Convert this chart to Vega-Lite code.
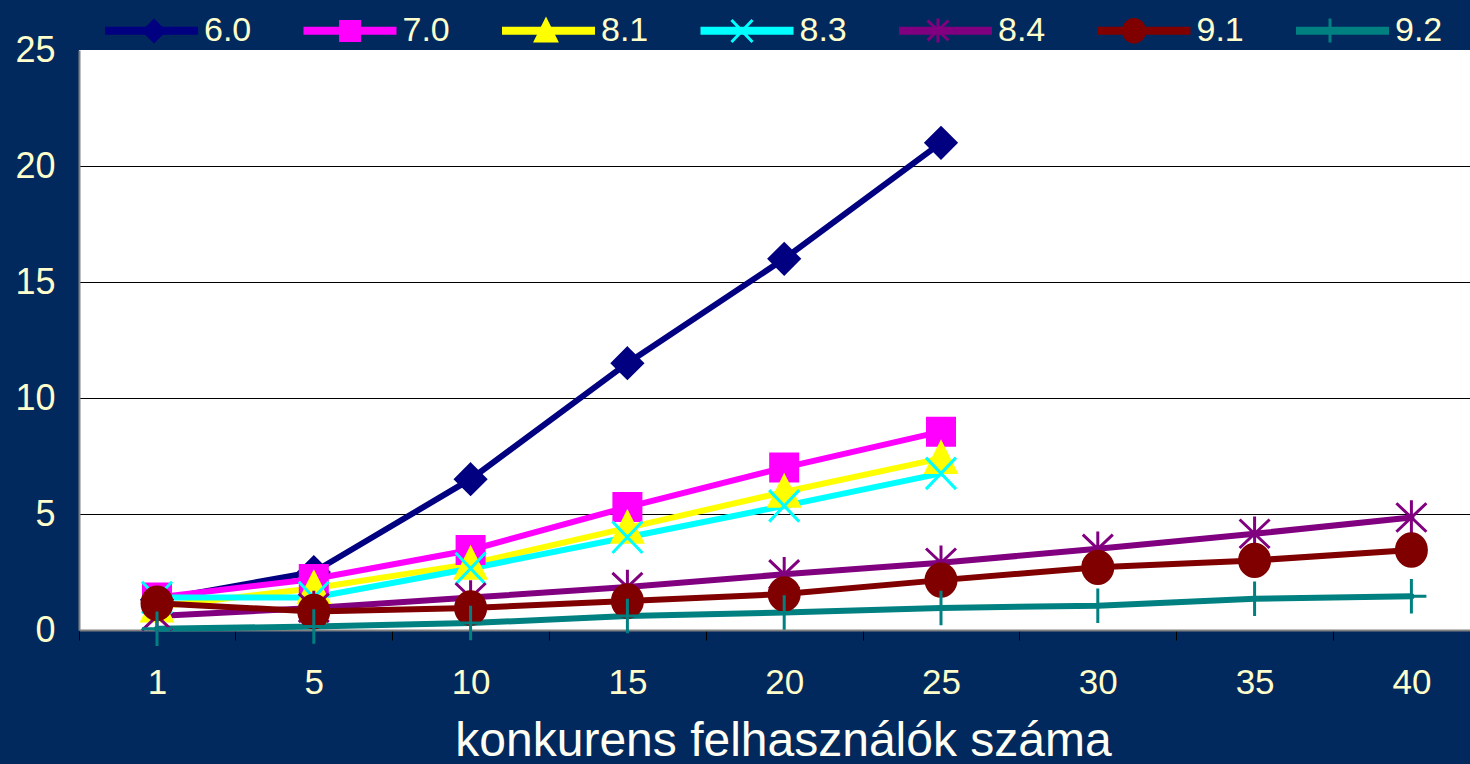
{
  "$schema": "https://vega.github.io/schema/vega-lite/v6.json",
  "width": 1391,
  "height": 580,
  "autosize": {"type": "none"},
  "padding": {"left": 79, "top": 50, "right": 0, "bottom": 134},
  "background": "#02295E",
  "config": {
    "view": {"fill": "white", "stroke": null},
    "font": "Liberation Sans"
  },
  "data": {
    "values": [
      {"series": "6.0", "users": "1", "value": 1.3},
      {"series": "6.0", "users": "5", "value": 2.5},
      {"series": "6.0", "users": "10", "value": 6.5},
      {"series": "6.0", "users": "15", "value": 11.5},
      {"series": "6.0", "users": "20", "value": 16.0},
      {"series": "6.0", "users": "25", "value": 21.0},
      {"series": "7.0", "users": "1", "value": 1.4},
      {"series": "7.0", "users": "5", "value": 2.2},
      {"series": "7.0", "users": "10", "value": 3.45},
      {"series": "7.0", "users": "15", "value": 5.3},
      {"series": "7.0", "users": "20", "value": 7.0},
      {"series": "7.0", "users": "25", "value": 8.55},
      {"series": "8.1", "users": "1", "value": 1.0},
      {"series": "8.1", "users": "5", "value": 1.8},
      {"series": "8.1", "users": "10", "value": 2.85},
      {"series": "8.1", "users": "15", "value": 4.4},
      {"series": "8.1", "users": "20", "value": 5.95},
      {"series": "8.1", "users": "25", "value": 7.4},
      {"series": "8.3", "users": "1", "value": 1.4},
      {"series": "8.3", "users": "5", "value": 1.4},
      {"series": "8.3", "users": "10", "value": 2.65},
      {"series": "8.3", "users": "15", "value": 4.0},
      {"series": "8.3", "users": "20", "value": 5.35},
      {"series": "8.3", "users": "25", "value": 6.75},
      {"series": "8.4", "users": "1", "value": 0.6},
      {"series": "8.4", "users": "5", "value": 0.95},
      {"series": "8.4", "users": "10", "value": 1.4},
      {"series": "8.4", "users": "15", "value": 1.85},
      {"series": "8.4", "users": "20", "value": 2.4},
      {"series": "8.4", "users": "25", "value": 2.9},
      {"series": "8.4", "users": "30", "value": 3.5},
      {"series": "8.4", "users": "35", "value": 4.15},
      {"series": "8.4", "users": "40", "value": 4.85},
      {"series": "9.1", "users": "1", "value": 1.15},
      {"series": "9.1", "users": "5", "value": 0.8},
      {"series": "9.1", "users": "10", "value": 0.95},
      {"series": "9.1", "users": "15", "value": 1.25},
      {"series": "9.1", "users": "20", "value": 1.55},
      {"series": "9.1", "users": "25", "value": 2.15},
      {"series": "9.1", "users": "30", "value": 2.7},
      {"series": "9.1", "users": "35", "value": 3.0},
      {"series": "9.1", "users": "40", "value": 3.45},
      {"series": "9.2", "users": "1", "value": 0.05},
      {"series": "9.2", "users": "5", "value": 0.15},
      {"series": "9.2", "users": "10", "value": 0.3},
      {"series": "9.2", "users": "15", "value": 0.6},
      {"series": "9.2", "users": "20", "value": 0.75},
      {"series": "9.2", "users": "25", "value": 0.95},
      {"series": "9.2", "users": "30", "value": 1.05},
      {"series": "9.2", "users": "35", "value": 1.35},
      {"series": "9.2", "users": "40", "value": 1.45}
    ]
  },
  "encoding": {
    "x": {
      "field": "users",
      "type": "ordinal",
      "scale": {"type": "point", "domain": ["1", "5", "10", "15", "20", "25", "30", "35", "40"], "padding": 0.4356, "align": 0.571},
      "axis": {
        "title": "konkurens felhasználók száma",
        "titleFontSize": 48,
        "titleFontWeight": "normal",
        "titleColor": "#FFFFF4",
        "titleFont": "Liberation Sans",
        "titlePadding": 17,
        "titleX": 704,
        "titleAlign": "center",
        "labelAngle": 0,
        "labelFontSize": 35,
        "labelColor": "#FFFFCC",
        "labelFont": "Liberation Sans",
        "labelPadding": 25,
        "labelOffset": 78.4,
        "tickOffset": -78.4,
        "ticks": true,
        "tickSize": 10,
        "tickColor": "#000000",
        "tickWidth": 1,
        "domainColor": "#808080",
        "domainWidth": 2,
        "grid": false
      }
    },
    "y": {
      "field": "value",
      "type": "quantitative",
      "scale": {"domain": [0, 25], "nice": false, "zero": true},
      "axis": {
        "title": null,
        "values": [0, 5, 10, 15, 20, 25],
        "labelFontSize": 36,
        "labelColor": "#FFFFCC",
        "labelFont": "Liberation Sans",
        "labelPadding": 24,
        "ticks": false,
        "domainColor": "#808080",
        "domainWidth": 2,
        "grid": true,
        "gridColor": {"condition": {"test": "datum.value == 25 || datum.value == 0", "value": "rgba(0,0,0,0)"}, "value": "#000000"},
        "gridWidth": 1,
        "gridOpacity": 1
      }
    }
  },
  "layer": [
    {
      "mark": {"type": "line", "strokeWidth": 6, "strokeCap": "round"},
      "encoding": {
        "color": {
          "field": "series",
          "type": "nominal",
          "scale": {
            "domain": ["6.0", "7.0", "8.1", "8.3", "8.4", "9.1", "9.2"],
            "range": ["#000080", "#FF00FF", "#FFFF00", "#00FFFF", "#800080", "#800000", "#008080"]
          },
          "legend": {
            "title": null,
            "orient": "none",
            "direction": "horizontal",
            "columns": 7,
            "legendX": 22,
            "legendY": -70,
            "padding": 0,
            "symbolType": "stroke",
            "symbolSize": 8649,
            "symbolStrokeWidth": 8,
            "labelFontSize": 34,
            "labelColor": "#FFFFCC",
            "labelFont": "Liberation Sans",
            "labelOffset": 2,
            "columnPadding": 35.5
          }
        }
      }
    },
    {
      "mark": {"type": "point", "filled": true, "opacity": 1, "size": 900, "strokeWidth": 3},
      "encoding": {
        "shape": {
          "field": "series",
          "type": "nominal",
          "scale": {
            "domain": ["6.0", "7.0", "8.1", "8.3", "8.4", "9.1", "9.2", "-"],
            "range": [
              "M0,-1L1,0L0,1L-1,0Z",
              "M-0.9,-0.9H0.9V0.9H-0.9Z",
              "M0,-1.05L1,0.95H-1Z",
              "M-1,-1.05L1,1.05M-1,1.05L1,-1.05",
              "M0,-1.15V1.15M-1,-0.95L1,0.95M-1,0.95L1,-0.95",
              "M1,0A1,1.08 0 1,1 -1,0A1,1.08 0 1,1 1,0Z",
              "M0,-1.15V1.15M-1,0H1",
              "circle"
            ]
          },
          "legend": {
            "title": null,
            "orient": "none",
            "direction": "horizontal",
            "columns": 7,
            "values": ["6.0", "7.0", "8.1", "8.3", "8.4", "9.1", "9.2"],
            "legendX": 58,
            "legendY": -37,
            "padding": 0,
            "symbolSize": 441,
            "symbolStrokeWidth": 3,
            "labelFontSize": 34,
            "labelFont": "Liberation Sans",
            "labelOpacity": 0,
            "labelOffset": 40.5,
            "columnPadding": 74
          }
        },
        "fill": {
          "field": "series",
          "type": "nominal",
          "scale": {
            "domain": ["6.0", "7.0", "8.1", "8.3", "8.4", "9.1", "9.2", "-"],
            "range": ["#000080", "#FF00FF", "#FFFF00", "#00FFFF", "#800080", "#800000", "#008080", "#000000"]
          },
          "legend": {
            "title": null,
            "orient": "none",
            "direction": "horizontal",
            "columns": 7,
            "values": ["6.0", "7.0", "8.1", "8.3", "8.4", "9.1", "9.2"],
            "legendX": 58,
            "legendY": -37,
            "padding": 0,
            "symbolSize": 441,
            "symbolStrokeWidth": 3,
            "labelFontSize": 34,
            "labelFont": "Liberation Sans",
            "labelOpacity": 0,
            "labelOffset": 40.5,
            "columnPadding": 74
          }
        },
        "stroke": {
          "field": "series",
          "type": "nominal",
          "scale": {
            "domain": ["6.0", "7.0", "8.1", "8.3", "8.4", "9.1", "9.2", "-"],
            "range": ["#000080", "#FF00FF", "#FFFF00", "#00FFFF", "#800080", "#800000", "#008080", "#000000"]
          },
          "legend": {
            "title": null,
            "orient": "none",
            "direction": "horizontal",
            "columns": 7,
            "values": ["6.0", "7.0", "8.1", "8.3", "8.4", "9.1", "9.2"],
            "legendX": 58,
            "legendY": -37,
            "padding": 0,
            "symbolSize": 441,
            "symbolStrokeWidth": 3,
            "labelFontSize": 34,
            "labelFont": "Liberation Sans",
            "labelOpacity": 0,
            "labelOffset": 40.5,
            "columnPadding": 74
          }
        }
      }
    }
  ]
}
